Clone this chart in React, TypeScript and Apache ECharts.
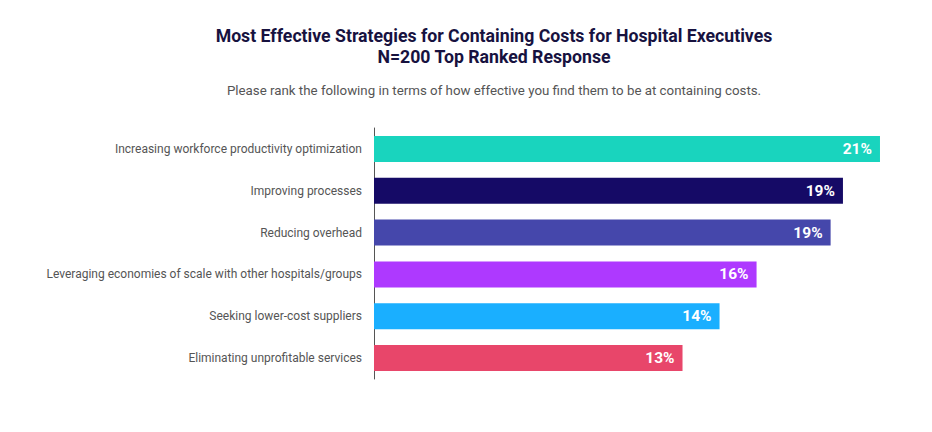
import React, { useEffect, useRef } from "react";
import * as echarts from "echarts";

const categories = [
  "Increasing workforce productivity optimization",
  "Improving processes",
  "Reducing overhead",
  "Leveraging economies of scale with other hospitals/groups",
  "Seeking lower-cost suppliers",
  "Eliminating unprofitable services",
];
const values = [20.5, 19, 18.5, 15.5, 14, 12.5];
const colors = ["#19D4BE", "#150A66", "#4547AB", "#AE39FF", "#1AAFFF", "#E8466A"];

const titleText = "Most Effective Strategies for Containing Costs for Hospital Executives\nN=200 Top Ranked Response";
const subtitleText = "Please rank the following in terms of how effective you find them to be at containing costs.";

export default function App() {
  const ref = useRef<HTMLDivElement>(null);
  useEffect(() => {
    if (!ref.current) return;
    const chart = echarts.init(ref.current, null, { renderer: "svg" });
    chart.setOption({
      animation: false,
      backgroundColor: "#ffffff",
      title: {
        text: titleText,
        subtext: subtitleText,
        left: 489,
        top: 20,
        textAlign: "center",
        itemGap: 17,
        textStyle: {
          fontFamily: "Roboto",
          fontWeight: "bold",
          fontSize: 17.7,
          lineHeight: 21,
          color: "#17123F",
        },
        subtextStyle: {
          fontFamily: "Roboto",
          fontSize: 13.3,
          color: "#555555",
        },
      },
      grid: { left: 374, right: 15, top: 128, bottom: 53, containLabel: false },
      xAxis: {
        type: "value",
        min: 0,
        max: 22,
        show: false,
      },
      yAxis: {
        type: "category",
        inverse: true,
        data: categories,
        axisLine: { show: true, lineStyle: { color: "#555555", width: 1 } },
        axisTick: { show: false },
        axisLabel: {
          margin: 12,
          fontFamily: "Roboto",
          fontSize: 12,
          color: "#555555",
        },
      },
      series: [
        {
          type: "bar",
          barCategoryGap: "38%",
          data: values.map((v, i) => ({ value: v, itemStyle: { color: colors[i] } })),
          label: {
            show: true,
            position: "insideRight",
            distance: 8,
            formatter: (p: any) => Math.round(p.value) + "%",
            color: "#ffffff",
            fontFamily: "Roboto",
            fontWeight: "bold",
            fontSize: 15.5,
          },
        },
      ],
    });
    return () => chart.dispose();
  }, []);
  return (
    <div
      ref={ref}
      style={{ position: "fixed", left: 0, top: 0, width: 932, height: 432 }}
    />
  );
}
